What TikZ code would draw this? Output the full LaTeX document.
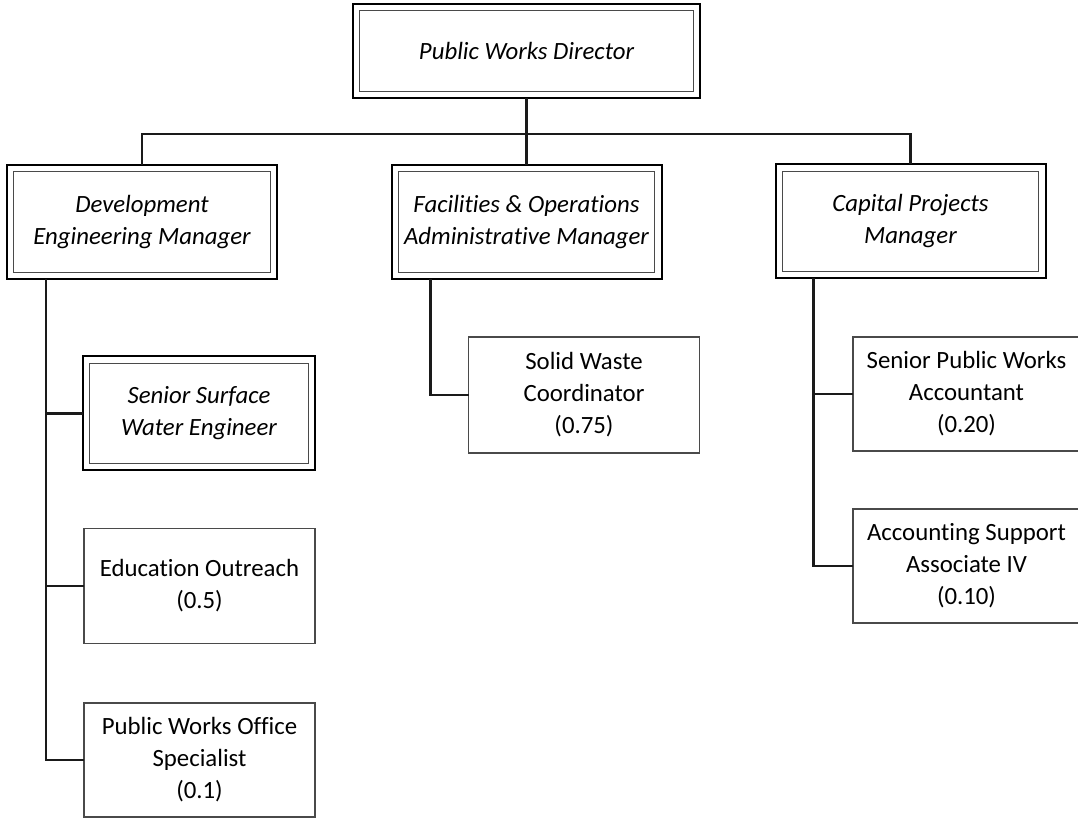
\documentclass[tikz,border=0pt]{standalone}
\usepackage{fontspec}
\setmainfont{Carlito}[RawFeature=-liga]
\usetikzlibrary{positioning}
\definecolor{orgline}{HTML}{1A1A1A}
\definecolor{orgbox}{HTML}{4A4A4A}

\begin{document}
\begin{tikzpicture}[
  x=0.5pt, y=-0.5pt,
  every node/.style={font=\fontsize{12.4}{16}\selectfont, align=center, inner sep=0pt, outer sep=0pt},
  unit/.style={rectangle, draw=orgbox, line width=0.7pt, minimum width=115.5pt, minimum height=57.5pt},
  head/.style={rectangle, draw=black, line width=1pt, minimum width=135pt, minimum height=57pt, font=\fontsize{12.4}{16}\selectfont\itshape},
  inner/.style={draw=orgbox, line width=0.45pt},
  conn/.style={draw=orgline, line width=1.1pt},
]
\path[use as bounding box, clip] (0,0) rectangle (1078,818);

% Top
\node[head, minimum width=173.5pt, minimum height=47pt] (pwd) at (526.5,51) {Public Works Director};

% Managers
\node[head] (dem) at (142,222) {Development\\Engineering Manager};
\node[head] (fom) at (526.5,222) {Facilities \& Operations\\Administrative Manager};
\node[head] (cpm) at (910.5,221.5) {Capital Projects\\Manager};

% Staff
\node[head, minimum width=116pt] (ssw) at (199,413.5) {Senior Surface\\Water Engineer};
\node[unit] (edu) at (199.5,586) {Education Outreach\\(0.5)};
\node[unit, minimum height=57pt] (pwo) at (199.5,760) {Public Works Office\\Specialist\\(0.1)};
\node[unit, minimum height=58pt] (swc) at (584,395) {Solid Waste\\Coordinator\\(0.75)};
\node[unit, minimum width=113.5pt, minimum height=57pt] (spa) at (966.5,394) {Senior Public Works\\Accountant\\(0.20)};
\node[unit, minimum width=113.5pt, minimum height=57pt] (asa) at (966.5,566) {Accounting Support\\Associate IV\\(0.10)};

% Inner frames
\foreach \n in {pwd,dem,fom,cpm,ssw}
  \draw[inner] ([shift={(3.3pt,-3.3pt)}]\n.north west) rectangle ([shift={(-3.3pt,3.3pt)}]\n.south east);

% Bus
\coordinate (bus) at (pwd.south |- 0,134);
\draw[conn] (pwd.south) -- (bus);
\draw[conn] (dem.north) |- (bus) -| (cpm.north);
\draw[conn] (bus) -- (fom.north);

% Trunks
\coordinate (dtop) at ([xshift=19.5pt]dem.south west);
\coordinate (ftop) at ([xshift=19.5pt]fom.south west);
\coordinate (ctop) at ([xshift=19pt]cpm.south west);

\draw[conn] (dtop) |- (pwo.west);
\draw[conn] (dtop |- ssw.west) -- (ssw.west);
\draw[conn] (dtop |- edu.west) -- (edu.west);

\draw[conn] (ftop) |- (swc.west);

\draw[conn] (ctop) |- (asa.west);
\draw[conn] (ctop |- spa.west) -- (spa.west);

\end{tikzpicture}
\end{document}
